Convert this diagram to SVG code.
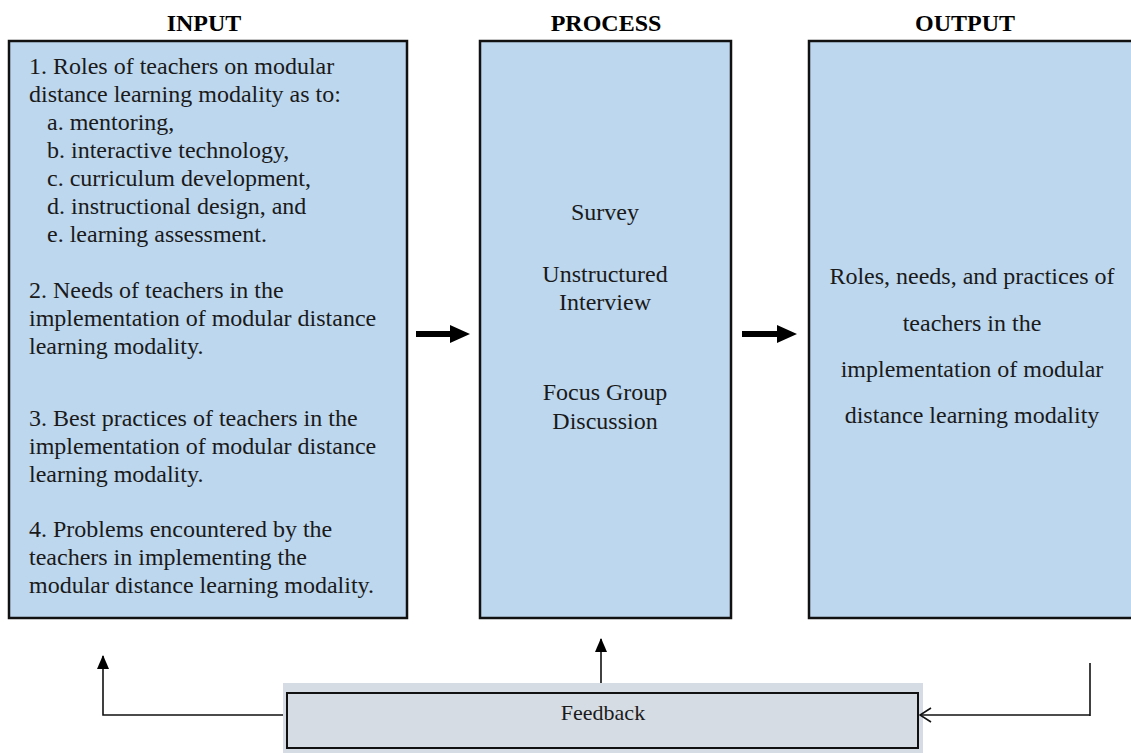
<svg xmlns="http://www.w3.org/2000/svg" width="1131" height="753" viewBox="0 0 1131 753">
  <style>
    .title { font-family: "Liberation Serif", "Times New Roman", serif; font-size: 24px; font-weight: bold; fill: #000; text-anchor: middle; }
    .body { font-family: "Liberation Serif", "Times New Roman", serif; font-size: 24px; fill: #1a1a1a; }
    .mid { text-anchor: middle; }
    .box { fill: #bdd7ee; stroke: #111; stroke-width: 2.5; }
    .line { fill: none; stroke: #111; stroke-width: 1.6; }
  </style>
  <defs>
    <!-- solid head for the upward feedback arrows -->
    <marker id="tri" viewBox="0 0 14 12" refX="13" refY="6" markerWidth="14" markerHeight="12" markerUnits="userSpaceOnUse" orient="auto">
      <path d="M0,0 L14,6 L0,12 Z" fill="#000"/>
    </marker>
    <!-- open chevron head for the return line -->
    <marker id="open" viewBox="0 0 13 16" refX="12" refY="8" markerWidth="13" markerHeight="16" markerUnits="userSpaceOnUse" orient="auto">
      <path d="M1,1 L12,8 L1,15" fill="none" stroke="#111" stroke-width="1.6"/>
    </marker>
  </defs>

  <!-- column headings -->
  <text class="title" x="204" y="31">INPUT</text>
  <text class="title" x="606" y="31">PROCESS</text>
  <text class="title" x="965" y="31">OUTPUT</text>

  <!-- INPUT -->
  <g id="input">
    <rect class="box" x="9" y="41" width="398" height="577"/>
    <text class="body" x="29" y="74">1. Roles of teachers on modular</text>
    <text class="body" x="29" y="102">distance learning modality as to:</text>
    <text class="body" x="47" y="130">a. mentoring,</text>
    <text class="body" x="47" y="158">b. interactive technology,</text>
    <text class="body" x="47" y="186">c. curriculum development,</text>
    <text class="body" x="47" y="214">d. instructional design, and</text>
    <text class="body" x="47" y="242">e. learning assessment.</text>
    <text class="body" x="29" y="298">2. Needs of teachers in the</text>
    <text class="body" x="29" y="326">implementation of modular distance</text>
    <text class="body" x="29" y="354">learning modality.</text>
    <text class="body" x="29" y="426">3. Best practices of teachers in the</text>
    <text class="body" x="29" y="454">implementation of modular distance</text>
    <text class="body" x="29" y="482">learning modality.</text>
    <text class="body" x="29" y="537">4. Problems encountered by the</text>
    <text class="body" x="29" y="565">teachers in implementing the</text>
    <text class="body" x="29" y="593">modular distance learning modality.</text>
  </g>

  <!-- PROCESS -->
  <g id="process">
    <rect class="box" x="480" y="41" width="251" height="577"/>
    <text class="body mid" x="605" y="220">Survey</text>
    <text class="body mid" x="605" y="282">Unstructured</text>
    <text class="body mid" x="605" y="310">Interview</text>
    <text class="body mid" x="605" y="400">Focus Group</text>
    <text class="body mid" x="605" y="429">Discussion</text>
  </g>

  <!-- OUTPUT -->
  <g id="output">
    <rect class="box" x="809" y="41" width="340" height="577"/>
    <text class="body mid" x="972" y="284">Roles, needs, and practices of</text>
    <text class="body mid" x="972" y="331">teachers in the</text>
    <text class="body mid" x="972" y="377">implementation of modular</text>
    <text class="body mid" x="972" y="423">distance learning modality</text>
  </g>

  <!-- FEEDBACK -->
  <g id="feedback">
    <rect x="283" y="683" width="640" height="70" fill="#d6dce4"/>
    <rect x="287" y="693" width="631" height="55" fill="#d6dce4" stroke="#111" stroke-width="2"/>
    <text class="body mid" x="603" y="720" style="font-size:22px">Feedback</text>
  </g>

  <!-- connectors -->
  <g id="connectors">
    <!-- block arrows between columns -->
    <path d="M416,331 H450 V325 L470,334 L450,343 V337 H416 Z" fill="#000"/>
    <path d="M742,331 H777 V325 L797,334 L777,343 V337 H742 Z" fill="#000"/>
    <!-- feedback loop to INPUT -->
    <path class="line" d="M283,715 H103 V656" marker-end="url(#tri)"/>
    <!-- feedback loop to PROCESS -->
    <path class="line" d="M601,683 V639" marker-end="url(#tri)"/>
    <!-- OUTPUT back to feedback -->
    <path class="line" d="M1090,663 V716"/>
    <path class="line" d="M1090,715 H920" marker-end="url(#open)"/>
  </g>
</svg>
